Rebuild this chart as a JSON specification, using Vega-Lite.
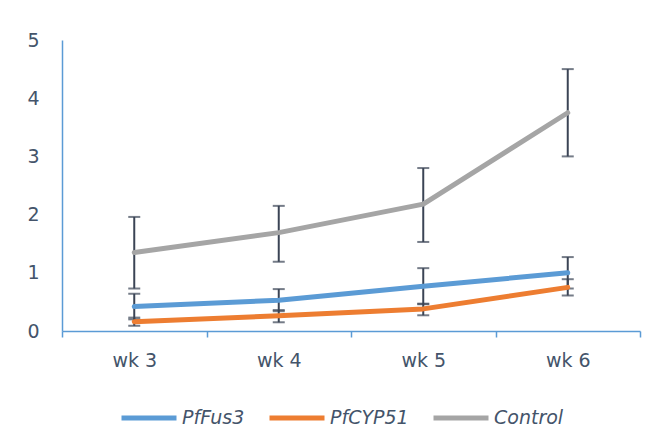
{
  "$schema": "https://vega.github.io/schema/vega-lite/v6.json",
  "width": 578,
  "height": 291,
  "autosize": {"type": "none"},
  "padding": {"left": 62, "top": 40, "right": 18, "bottom": 116},
  "background": "white",
  "data": {
    "values": [
      {"week": "wk 3", "series": "PfFus3", "value": 0.42, "low": 0.20, "high": 0.64},
      {"week": "wk 4", "series": "PfFus3", "value": 0.53, "low": 0.34, "high": 0.72},
      {"week": "wk 5", "series": "PfFus3", "value": 0.77, "low": 0.46, "high": 1.08},
      {"week": "wk 6", "series": "PfFus3", "value": 1.00, "low": 0.73, "high": 1.27},
      {"week": "wk 3", "series": "PfCYP51", "value": 0.16, "low": 0.09, "high": 0.23},
      {"week": "wk 4", "series": "PfCYP51", "value": 0.26, "low": 0.15, "high": 0.36},
      {"week": "wk 5", "series": "PfCYP51", "value": 0.38, "low": 0.27, "high": 0.47},
      {"week": "wk 6", "series": "PfCYP51", "value": 0.75, "low": 0.61, "high": 0.89},
      {"week": "wk 3", "series": "Control", "value": 1.35, "low": 0.73, "high": 1.96},
      {"week": "wk 4", "series": "Control", "value": 1.69, "low": 1.19, "high": 2.15},
      {"week": "wk 5", "series": "Control", "value": 2.18, "low": 1.53, "high": 2.80},
      {"week": "wk 6", "series": "Control", "value": 3.75, "low": 3.00, "high": 4.50}
    ]
  },
  "encoding": {
    "x": {
      "field": "week",
      "type": "ordinal",
      "sort": ["wk 3", "wk 4", "wk 5", "wk 6"],
      "scale": {"type": "band", "paddingInner": 0, "paddingOuter": 0},
      "axis": {
        "title": null,
        "labelAngle": 0,
        "tickBand": "extent",
        "tickSize": 6,
        "tickColor": "#5B9BD5",
        "tickWidth": 1.5,
        "domainColor": "#5B9BD5",
        "domainWidth": 1.5,
        "labelFont": "DejaVu Sans",
        "labelFontSize": 19,
        "labelColor": "#44546A",
        "labelPadding": 14,
        "grid": false
      }
    }
  },
  "layer": [
    {
      "mark": {"type": "rule", "color": "#3B4455", "strokeWidth": 2},
      "encoding": {
        "y": {
          "field": "low",
          "type": "quantitative",
          "scale": {"domain": [0, 5]},
          "axis": {
            "title": null,
            "values": [0, 1, 2, 3, 4, 5],
            "format": "d",
            "grid": false,
            "ticks": false,
            "tickSize": 0,
            "domainColor": "#5B9BD5",
            "domainWidth": 1.5,
            "labelFont": "DejaVu Sans",
            "labelFontSize": 19,
            "labelColor": "#44546A",
            "labelPadding": 23
          }
        },
        "y2": {"field": "high"}
      }
    },
    {
      "mark": {"type": "tick", "color": "#3B4455", "size": 12, "thickness": 2},
      "encoding": {"y": {"field": "low", "type": "quantitative", "title": null}}
    },
    {
      "mark": {"type": "tick", "color": "#3B4455", "size": 12, "thickness": 2},
      "encoding": {"y": {"field": "high", "type": "quantitative", "title": null}}
    },
    {
      "mark": {"type": "line", "strokeWidth": 5, "strokeCap": "round", "strokeJoin": "round"},
      "encoding": {
        "y": {"field": "value", "type": "quantitative", "title": null},
        "color": {
          "field": "series",
          "type": "nominal",
          "sort": ["PfFus3", "PfCYP51", "Control"],
          "scale": {"domain": ["PfFus3", "PfCYP51", "Control"], "range": ["#5B9BD5", "#ED7D31", "#A5A5A5"]},
          "legend": {
            "orient": "none",
            "legendX": 57,
            "legendY": 348,
            "direction": "horizontal",
            "title": null,
            "symbolType": "stroke",
            "symbolSize": 3025,
            "symbolStrokeWidth": 5,
            "labelFont": "DejaVu Sans",
            "labelFontSize": 19,
            "labelFontStyle": "italic",
            "labelColor": "#44546A",
            "labelOffset": 3,
            "columnPadding": 14,
            "padding": 0
          }
        }
      }
    }
  ],
  "config": {"view": {"stroke": null}}
}
